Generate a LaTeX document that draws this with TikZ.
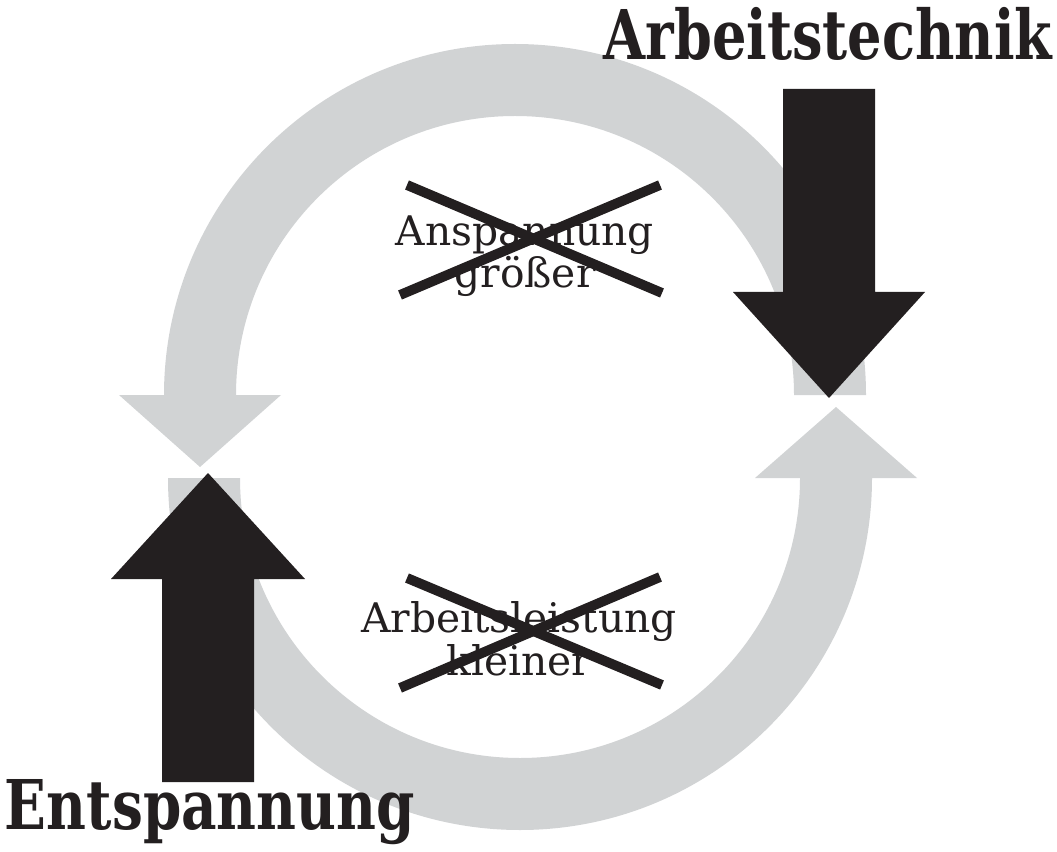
\documentclass[tikz,border=0pt]{standalone}
\usepackage{fontspec}
\setmainfont{DejaVu Serif}
\definecolor{ringgray}{HTML}{D1D3D4}
\definecolor{inkblack}{HTML}{231F20}
\tikzset{ring arrow/.style={fill=ringgray},
  block arrow/.style={fill=inkblack},
  cross line/.style={draw=inkblack,line width=7pt},
  word/.style={align=center,font=\fontsize{29}{30}\selectfont,text=inkblack,inner sep=0pt},
  head word/.style={font=\bfseries\fontsize{48.8}{50}\selectfont,text=inkblack,inner sep=0pt},
}

\begin{document}
\begin{tikzpicture}[x=0.025cm,y=-0.025cm]
	\useasboundingbox (0,0) rectangle (1057,852);
	% grey cycle, upper half runs to the left, lower half back to the right
	\fill[ring arrow] (866,395) arc[start angle=0,end angle=-180,radius=351]
		-- (119,395) -- (200,467) -- (281,395) -- (236,395)
		arc[start angle=-180,end angle=0,radius=279] -- cycle;
	\fill[ring arrow] (168,478) arc[start angle=180,end angle=0,radius=352]
		-- (917,478) -- (836,407) -- (755,478) -- (800,478)
		arc[start angle=0,end angle=180,radius=280] -- cycle;
	
	% black arrows
	\fill[block arrow] (783,89) -- (875,89) -- (875,292) -- (925,292)
		-- (829,398) -- (733,292) -- (783,292) -- cycle;
	\fill[block arrow] (162,782) -- (254,782) -- (254,579) -- (305,579)
		-- (208,473) -- (111,579) -- (162,579) -- cycle;
	
	\node[head word,anchor=base] (technik) at (828,60) {\scalebox{0.79}[1]{Arbeitstechnik}};
	\node[head word,anchor=base] (entsp) at (210,829) {\scalebox{0.8}[1]{Entspannung}};
	\node[word,anchor=base] (ansp) at (525,288) {Anspannung\\größer};
	\node[word,anchor=base] (leist) at (519,675) {Arbeitsleistung\\kleiner};
	
	% crossed out
	\draw[cross line] (407,185) -- (662,293);
	\draw[cross line] (400,295) -- (660,185);
	\draw[cross line] (407,578) -- (662,685);
	\draw[cross line] (400,688) -- (660,577);
\end{tikzpicture}
\end{document}
